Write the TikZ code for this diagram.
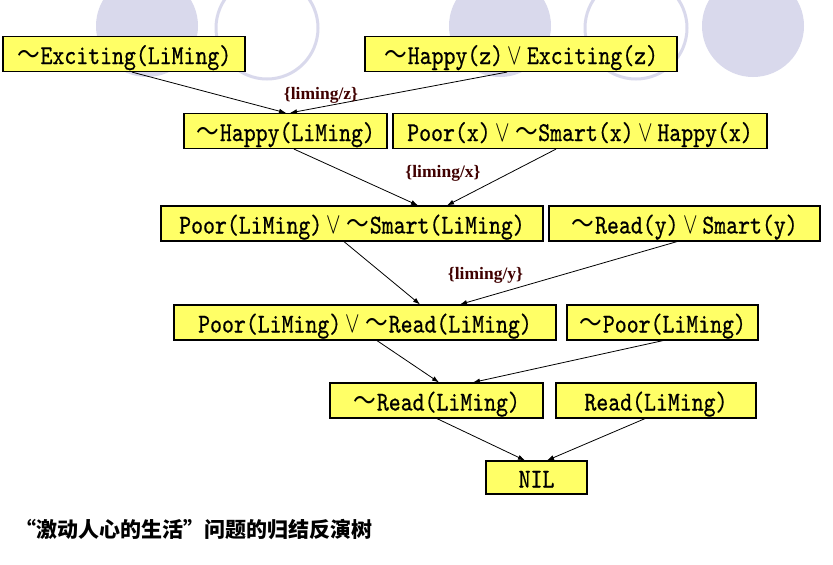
\documentclass[tikz,border=0pt]{standalone}
\usepackage{fontspec}
\usepackage{graphicx}
\newfontfamily\cjk{Noto Sans CJK SC}
\newfontfamily\lblfont{Liberation Serif}
\newfontfamily\boxfont{lmmono10-regular.otf}[FakeBold=0.7]
\usetikzlibrary{arrows.meta}
\definecolor{boxyellow}{RGB}{255,255,102}
\definecolor{circ}{RGB}{217,217,236}
\definecolor{lblcol}{RGB}{64,0,0}
\newcommand\tld{\makebox[23.8pt]{\cjk ～}}
\newcommand\myor{\makebox[23.8pt]{\scalebox{1.05}[1.2]{$\vee$}}}
\newcommand\bt[1]{\scalebox{1}[1.2]{#1}}
\tikzset{
  box/.style={draw=black, line width=1.2pt, fill=boxyellow, inner sep=0pt,
    minimum height=35pt, text height=22pt, text depth=2pt,
    font=\fontsize{22.7}{24}\selectfont\boxfont},
  arr/.style={line width=0.8pt, -{Latex[length=7pt,width=5pt]}},
  lbl/.style={font=\fontsize{17.5}{18}\selectfont\lblfont\bfseries, text=lblcol, inner sep=0pt},
  circfill/.style={fill=circ},
  circline/.style={draw=circ, line width=3pt},
}
\begin{document}
\begin{tikzpicture}[x=1pt,y=-1pt]
\useasboundingbox (0,0) rectangle (833,565);
\fill[white] (0,0) rectangle (833,565);
% decorative circles
\fill[circfill] (147,26) circle[radius=51pt];
\draw[circline] (267,28) circle[radius=51pt];
\fill[circfill] (500,26) circle[radius=51pt];
\draw[circline] (636,28) circle[radius=51pt];
\fill[circfill] (753,26) circle[radius=51pt];
% boxes
\node[box, minimum width=242pt] (b1) at (124,54) {\bt{\tld Exciting(LiMing)}};
\node[box, minimum width=312pt] (b2) at (521,54) {\bt{\tld Happy(z)\myor Exciting(z)}};
\node[box, minimum width=203pt] (b3) at (285.5,131) {\bt{\tld Happy(LiMing)}};
\node[box, minimum width=374pt] (b4) at (580,131) {\bt{Poor(x)\myor\tld Smart(x)\myor Happy(x)}};
\node[box, minimum width=382pt] (b5) at (352,223.5) {\bt{Poor(LiMing)\myor\tld Smart(LiMing)}};
\node[box, minimum width=271pt] (b6) at (684.5,223.5) {\bt{\tld Read(y)\myor Smart(y)}};
\node[box, minimum width=382pt] (b7) at (365,322.5) {\bt{Poor(LiMing)\myor\tld Read(LiMing)}};
\node[box, minimum width=191pt] (b8) at (662.5,322.5) {\bt{\tld Poor(LiMing)}};
\node[box, minimum width=213pt] (b9) at (436.5,400.5) {\bt{\tld Read(LiMing)}};
\node[box, minimum width=200pt] (b10) at (656,400.5) {\bt{Read(LiMing)}};
\node[box, minimum width=101pt, minimum height=33pt] (b11) at (536.5,477.5) {\bt{NIL}};
% arrows
\draw[arr] ([xshift=8pt]b1.south) -- ([xshift=0.5pt]b3.north);
\draw[arr] ([xshift=-14pt]b2.south) -- ([xshift=4.5pt]b3.north);
\draw[arr] ([xshift=8.5pt]b3.south) -- ([xshift=66pt]b5.north);
\draw[arr] ([xshift=-24pt]b4.south) -- ([xshift=95pt]b5.north);
\draw[arr] ([xshift=-8pt]b5.south) -- ([xshift=55pt]b7.north);
\draw[arr] ([xshift=-7.5pt]b6.south) -- ([xshift=95pt]b7.north);
\draw[arr] ([xshift=12pt]b7.south) -- ([xshift=2.5pt]b9.north);
\draw[arr] ([xshift=0.5pt]b8.south) -- ([xshift=36.5pt]b9.north);
\draw[arr] ([xshift=0.5pt]b9.south) -- ([xshift=-11.5pt]b11.north);
\draw[arr] ([xshift=-11pt]b10.south) -- ([xshift=10.5pt]b11.north);
% labels
\node[lbl] (lz) at (321,95) {\{liming/z\}};
\node[lbl] (lx) at (443,173) {\{liming/x\}};
\node[lbl] (ly) at (485.5,275) {\{liming/y\}};
% caption
\node[anchor=west, inner sep=0pt, font=\fontsize{21}{21}\selectfont\cjk\bfseries] (cap) at (15,530) {“激动人心的生活”问题的归结反演树};
\end{tikzpicture}
\end{document}
